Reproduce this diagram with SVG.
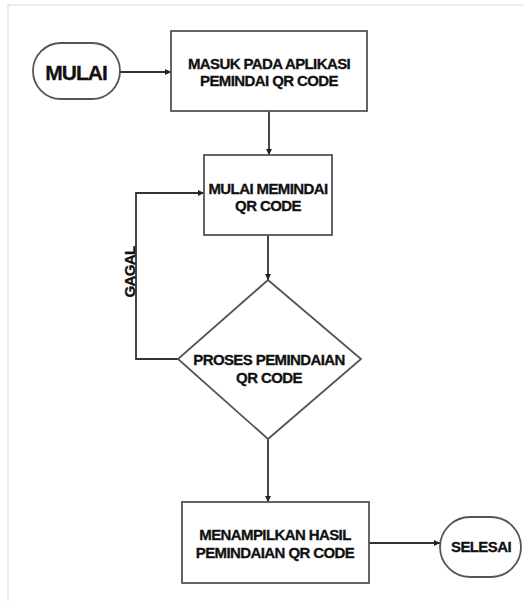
<svg xmlns="http://www.w3.org/2000/svg" width="524" height="601" viewBox="0 0 524 601">
<style>
.shape{fill:#fff;stroke:#555;stroke-width:1.8}
.line{fill:none;stroke:#333;stroke-width:1.8}
.t{font-family:"Liberation Sans",Arial,sans-serif;font-weight:bold;fill:#111;stroke:#111;stroke-width:0.3;text-anchor:middle;dominant-baseline:central}
.s{font-size:15px;letter-spacing:-0.6px}
.b{font-size:21px;letter-spacing:-1px}
</style>
<defs>
<marker id="ah" viewBox="0 0 10 10" refX="10" refY="5" markerWidth="6" markerHeight="6" markerUnits="userSpaceOnUse" orient="auto">
<path d="M0,0 L10,5 L0,10 Z" fill="#222"/>
</marker>
</defs>
<rect width="524" height="601" fill="#fff"/>
<path d="M8,601 V5 H524" fill="none" stroke="#e6e6e6" stroke-width="1.5"/>
<g id="connectors">
<path class="line" d="M120,72 H171" marker-end="url(#ah)"/>
<path class="line" d="M269,111 V155" marker-end="url(#ah)"/>
<path class="line" d="M268,235 V280" marker-end="url(#ah)"/>
<path class="line" d="M178,359 H136 V193 H204" marker-end="url(#ah)"/>
<path class="line" d="M268,439 V502" marker-end="url(#ah)"/>
<path class="line" d="M369,543 H440" marker-end="url(#ah)"/>
<text class="t s" transform="translate(129,272) rotate(-90)">GAGAL</text>
</g>
<g id="mulai">
<rect class="shape" x="33" y="43" width="87" height="56" rx="28" ry="28"/>
<text class="t b" x="76" y="72">MULAI</text>
</g>
<g id="masuk">
<rect class="shape" x="171" y="31" width="196" height="80"/>
<text class="t s" x="269" y="63">MASUK PADA APLIKASI</text>
<text class="t s" x="269" y="80">PEMINDAI QR CODE</text>
</g>
<g id="memindai">
<rect class="shape" x="204" y="155" width="128" height="80"/>
<text class="t s" x="268" y="188">MULAI MEMINDAI</text>
<text class="t s" x="268" y="205">QR CODE</text>
</g>
<g id="proses">
<path class="shape" d="M268,280 L361,359 L268,439 L178,359 Z"/>
<text class="t s" x="269" y="359">PROSES PEMINDAIAN</text>
<text class="t s" x="269" y="377">QR CODE</text>
</g>
<g id="menampilkan">
<rect class="shape" x="182" y="502" width="187" height="81"/>
<text class="t s" x="275" y="534">MENAMPILKAN HASIL</text>
<text class="t s" x="275" y="552">PEMINDAIAN QR CODE</text>
</g>
<g id="selesai">
<rect class="shape" x="440" y="517" width="81" height="60" rx="30" ry="30"/>
<text class="t s" x="481" y="546">SELESAI</text>
</g>
</svg>
